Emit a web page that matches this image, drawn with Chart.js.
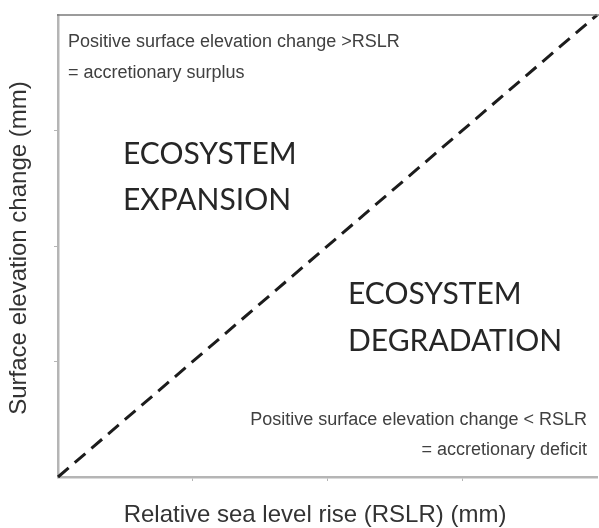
<!DOCTYPE html>
<html>
<head>
<meta charset="utf-8">
<script src="https://cdn.jsdelivr.net/npm/chart.js@4.4.1/dist/chart.umd.min.js"></script>
<style>
  html, body { margin: 0; padding: 0; background: #fff; }
  #wrap { width: 599px; height: 528px; }
</style>
</head>
<body>
<div id="wrap"><canvas id="chart"></canvas></div>
<script>
// axis ranges (no tick labels are shown in the figure)
const xTicks = [0, 1, 2, 3, 4];
const yTicks = [0, 1, 2, 3, 4];

// 1:1 line, elevation change == RSLR
const rslr = [0, 4];
const elevation = [0, 4];

// text labels
const xTitle = 'Relative sea level rise (RSLR) (mm)';
const yTitle = 'Surface elevation change (mm)';
const upperNote = ['Positive surface elevation change >RSLR', '= accretionary surplus'];
const lowerNote = ['Positive surface elevation change < RSLR', '= accretionary deficit'];
const upperZone = ['ECOSYSTEM', 'EXPANSION'];
const lowerZone = ['ECOSYSTEM', 'DEGRADATION'];

const smallFont = '18px "Liberation Sans", Arial, sans-serif';
const bigFont = '30px Lato, "Open Sans", sans-serif';
const titleFont = '24px "Liberation Sans", Arial, sans-serif';

const labelsPlugin = {
    id: 'labels',
    afterDraw(chart) {
        const ctx = chart.ctx;
        const a = chart.chartArea;
        ctx.save();

        // top frame line
        ctx.strokeStyle = '#7a7a7a';
        ctx.lineWidth = 1.5;
        ctx.beginPath();
        ctx.moveTo(a.left - 1, a.top);
        ctx.lineTo(chart.width, a.top);
        ctx.stroke();

        ctx.textBaseline = 'middle';
        ctx.fillStyle = '#404040';
        ctx.font = smallFont;
        ctx.textAlign = 'left';
        ctx.fillText(upperNote[0], a.left + 10, a.top + 27);
        ctx.fillText(upperNote[1], a.left + 10, a.top + 58);
        ctx.textAlign = 'right';
        ctx.fillText(lowerNote[0], a.right - 10, a.bottom - 57);
        ctx.fillText(lowerNote[1], a.right - 10, a.bottom - 27);

        ctx.fillStyle = '#262626';
        ctx.font = bigFont;
        ctx.textAlign = 'left';
        ctx.fillText(upperZone[0], a.left + 65, a.top + 139);
        ctx.fillText(upperZone[1], a.left + 65, a.top + 185);
        ctx.fillText(lowerZone[0], a.left + 290, a.top + 279);
        ctx.fillText(lowerZone[1], a.left + 290, a.top + 326);

        // axis titles
        ctx.fillStyle = '#333';
        ctx.font = titleFont;
        ctx.textAlign = 'center';
        ctx.fillText(xTitle, 315, 515);
        ctx.translate(19, (a.top + a.bottom) / 2 + 2);
        ctx.rotate(-Math.PI / 2);
        ctx.fillText(yTitle, 0, 0);
        ctx.restore();
    }
};

const tickColor = c => (c.tick && (c.tick.value === xTicks[0] || c.tick.value === xTicks[xTicks.length - 1])) ? 'rgba(0,0,0,0)' : '#b5b5b5';

new Chart(document.getElementById('chart'), {
    type: 'scatter',
    data: {
        datasets: [{
            data: rslr.map((x, i) => ({ x: x, y: elevation[i] })),
            showLine: true,
            borderColor: '#1c1c1c',
            borderWidth: 3,
            borderDash: [14, 8],
            pointRadius: 0,
            clip: false
        }]
    },
    options: {
        responsive: true,
        maintainAspectRatio: false,
        animation: false,
        layout: { padding: { top: 15, right: 2, left: 0, bottom: 0 } },
        plugins: {
            legend: { display: false },
            tooltip: { enabled: false }
        },
        scales: {
            x: {
                type: 'linear',
                min: xTicks[0],
                max: xTicks[xTicks.length - 1],
                afterBuildTicks: s => { s.ticks = xTicks.map(v => ({ value: v })); },
                afterFit: s => { s.height = 51; },
                ticks: { display: false },
                grid: { drawOnChartArea: false, drawTicks: true, tickLength: 4, color: tickColor },
                border: { color: '#b5b5b5', width: 2.5 }
            },
            y: {
                type: 'linear',
                min: yTicks[0],
                max: yTicks[yTicks.length - 1],
                afterBuildTicks: s => { s.ticks = yTicks.map(v => ({ value: v })); },
                afterFit: s => { s.width = 58; },
                ticks: { display: false },
                grid: { drawOnChartArea: false, drawTicks: true, tickLength: 4, color: tickColor },
                border: { color: '#b5b5b5', width: 2.5 }
            }
        }
    },
    plugins: [labelsPlugin]
});
</script>
</body>
</html>
